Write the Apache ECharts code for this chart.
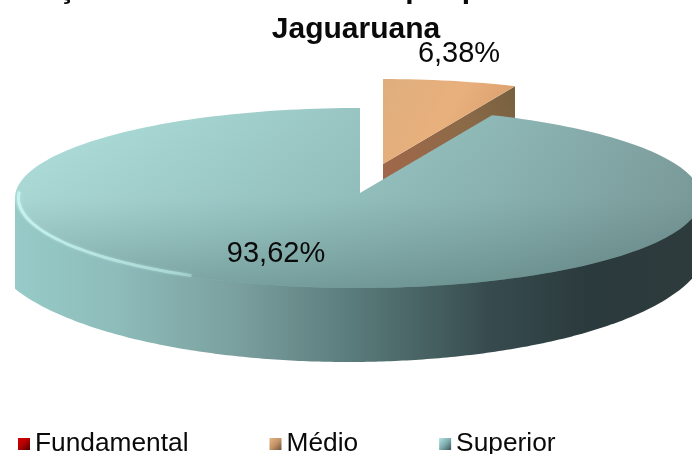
<!DOCTYPE html>
<html><head><meta charset="utf-8">
<style>html,body{margin:0;padding:0;background:#fff}#c{width:692px;height:454px}</style>
<script src="https://cdn.jsdelivr.net/npm/echarts@6/dist/echarts.min.js"></script>
</head><body><div id="c"></div>
<script>
var categories = ['Fundamental', 'Médio', 'Superior'];
var values = [0, 6.38, 93.62];
var titleLines = ['Formações docentes do turno por professor da escola', 'Jaguaruana'];

var FONT = '"Liberation Sans", Arial, sans-serif';
var disc = {cx: 358, cy: 198, rx: 343, ry: 90, apexX: 360, apexY: 193};
var medioDisc = {cx: 381, cy: 169, rx: 343, ry: 90, apexX: 383, apexY: 164};
var base = {cx: 348, cy: 244, rx: 360, ry: 118, left: 15, right: 700};
var depth = 80;
var rayStretch = 1.05;
var labelPos = {'Médio': [459, 54], 'Superior': [276, 254]};
var LG = echarts.graphic.LinearGradient;

function fmt(v) { return v.toFixed(2).replace('.', ',') + '%'; }
function startAngle(i) {
  var total = values.reduce(function (a, b) { return a + b; }, 0), s = 0;
  for (var k = 0; k < i; k++) s += values[k];
  return s / total * 360;
}
// rim point seen from the apex, at a pie angle measured clockwise from the top
function rim(d, deg, k) {
  var a = deg * Math.PI / 180;
  var dx = Math.sin(a) * d.rx * rayStretch, dy = -Math.cos(a) * d.ry;
  var ox = (d.apexX - d.cx) / d.rx, oy = (d.apexY - d.cy) / d.ry;
  var ux = dx / d.rx, uy = dy / d.ry;
  var A = ux * ux + uy * uy, B = 2 * (ox * ux + oy * uy), C = ox * ox + oy * oy - 1;
  var t = (-B + Math.sqrt(B * B - 4 * A * C)) / (2 * A);
  t *= (k || 1);
  return [d.apexX + t * dx, d.apexY + t * dy];
}
function arc(d, a0, a1, k) {
  var pts = [], n = Math.max(2, Math.ceil(Math.abs(a1 - a0) / 1.5));
  for (var i = 0; i <= n; i++) pts.push(rim(d, a0 + (a1 - a0) * i / n, k));
  return pts;
}
function textEl(name, v) {
  return {type: 'text', z2: 50, style: {
    text: fmt(v), x: labelPos[name][0], y: labelPos[name][1], align: 'center', verticalAlign: 'middle',
    fontFamily: FONT, fontSize: 29, fill: '#0a0a0a'
  }};
}

function renderMedio(params, api) {
  var v = api.value(0), a0 = startAngle(1), a1 = a0 + v / 100 * 360;
  var d = medioDisc, edge = rim(d, a1);
  var face = [[d.apexX, d.apexY]].concat(arc(d, a0, a1));
  var cut = [[d.apexX, d.apexY], edge, [edge[0], edge[1] + depth], [d.apexX, d.apexY + depth]];
  return {type: 'group', children: [
    {type: 'polygon', shape: {points: cut}, style: {fill: new LG(383, 170, 516, 90, [
      {offset: 0, color: '#a0674a'}, {offset: 0.6, color: '#8c6a48'}, {offset: 1, color: '#76603f'}], true)}},
    {type: 'polygon', shape: {points: face}, style: {fill: new LG(383, 78, 516, 150, [
      {offset: 0, color: '#dfae7e'}, {offset: 0.5, color: '#e8b07c'}, {offset: 1, color: '#d49a68'}], true)}},
    textEl('Médio', v)
  ]};
}
function renderSuperior(params, api) {
  var v = api.value(0), a0 = startAngle(2), a1 = a0 + v / 100 * 360;
  var d = disc;
  var face = [[d.apexX, d.apexY]].concat(arc(d, a0, a1));
  var side = [[base.left, d.cy]];
  for (var x = base.left; x <= base.right; x += 4) {
    var u = (x - base.cx) / base.rx;
    side.push([x, base.cy + base.ry * Math.sqrt(1 - u * u)]);
  }
  side.push([base.right, d.cy]);
  var h = arc(d, 271, 207, 0.99);
  return {type: 'group', children: [
    {type: 'polygon', shape: {points: side}, style: {fill: new LG(15, 0, 692, 0, [
      {offset: 0, color: '#97cbc8'}, {offset: 0.15, color: '#8dbcba'}, {offset: 0.33, color: '#7a9f9e'},
      {offset: 0.5, color: '#5a7b7b'}, {offset: 0.7, color: '#374b4e'}, {offset: 0.85, color: '#2b3a3c'},
      {offset: 1, color: '#2d3b3d'}], true)}},
    {type: 'polygon', shape: {points: face}, style: {fill: new LG(15, 0, 692, 0, [
      {offset: 0, color: '#b2e2de'}, {offset: 0.35, color: '#a0cfcc'}, {offset: 0.7, color: '#8fb9b7'},
      {offset: 1, color: '#7f9f9f'}], true)}},
    {type: 'polygon', shape: {points: face}, style: {fill: new LG(0, 108, 0, 288, [
      {offset: 0, color: 'rgba(60,90,90,0)'}, {offset: 0.5, color: 'rgba(60,90,90,0.08)'},
      {offset: 1, color: 'rgba(50,80,80,0.38)'}], true)}},
    {type: 'polyline', shape: {points: h}, style: {fill: 'none', lineWidth: 3, shadowBlur: 3,
      shadowColor: 'rgba(200,245,240,0.6)', stroke: new LG(15, 0, 240, 0, [
      {offset: 0, color: 'rgba(205,250,245,0.75)'}, {offset: 0.7, color: 'rgba(190,240,235,0.55)'},
      {offset: 1, color: 'rgba(190,240,235,0)'}], true)}},
    textEl('Superior', v)
  ]};
}
function renderNone() { return {type: 'group', children: []}; }

var legendColors = [
  new LG(0, 0, 1, 1, [{offset: 0, color: '#d80000'}, {offset: 0.5, color: '#b00000'}, {offset: 1, color: '#4a0000'}]),
  new LG(0, 0, 1, 1, [{offset: 0, color: '#e6b486'}, {offset: 0.5, color: '#c49468'}, {offset: 1, color: '#705238'}]),
  new LG(0, 0, 1, 1, [{offset: 0, color: '#b4e4e4'}, {offset: 0.5, color: '#80aeb0'}, {offset: 1, color: '#3c5458'}])
];
var renderers = [renderNone, renderMedio, renderSuperior];

var chart = echarts.init(document.getElementById('c'), null, {renderer: 'canvas'});
chart.setOption({
  animation: false,
  backgroundColor: '#fff',
  title: [
    {text: titleLines[0], left: 356, top: -25, textAlign: 'center', padding: 0,
     textStyle: {fontFamily: FONT, fontWeight: 'bold', fontSize: 30, color: '#0a0a0a'}},
    {text: titleLines[1], left: 356, top: 15, textAlign: 'center', padding: 0,
     textStyle: {fontFamily: FONT, fontWeight: 'bold', fontSize: 30, color: '#0a0a0a'}}
  ],
  legend: {
    left: 18, top: 431, padding: 0, itemGap: 81, itemWidth: 12, itemHeight: 12, icon: 'rect',
    selectedMode: false,
    textStyle: {fontFamily: FONT, fontSize: 26.3, color: '#0a0a0a', padding: [0, 0, 0, 0]},
    data: categories.map(function (n, i) {
      return {name: n, icon: 'rect', itemStyle: {color: legendColors[i]}};
    })
  },
  series: categories.map(function (n, i) {
    return {
      type: 'custom', name: n, coordinateSystem: 'none', clip: false, silent: true, z: 2 + i,
      itemStyle: {color: legendColors[i]},
      renderItem: renderers[i],
      data: [[values[i]]]
    };
  })
});
</script></body></html>
